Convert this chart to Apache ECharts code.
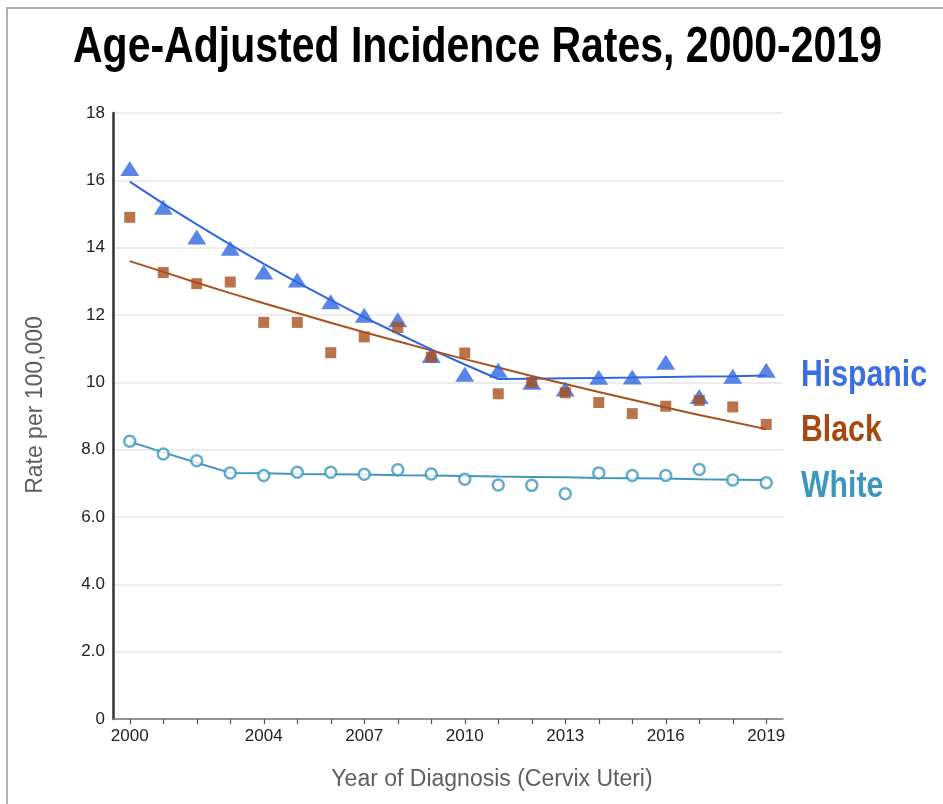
<!DOCTYPE html>
<html>
<head>
<meta charset="utf-8">
<title>Age-Adjusted Incidence Rates, 2000-2019</title>
<script src="https://cdn.jsdelivr.net/npm/echarts@6/dist/echarts.min.js"></script>
<style>
  html, body { margin: 0; padding: 0; background: #fff; }
  #chart { width: 943px; height: 804px; }
</style>
</head>
<body>
<div id="chart"></div>
<script>
// years on the x axis, and the ones that get a label
const years = ['2000', '2001', '2002', '2003', '2004', '2005', '2006', '2007', '2008', '2009',
  '2010', '2011', '2012', '2013', '2014', '2015', '2016', '2017', '2018', '2019']
const labelledYears = ['2000', '2004', '2007', '2010', '2013', '2016', '2019']

// observed rates (per 100,000)
const hispanicRates = [16.35, 15.2, 14.32, 13.98, 13.28, 13.04, 12.39, 11.99, 11.86, 10.8,
  10.24, 10.36, 10.0, 9.8, 10.15, 10.16, 10.6, 9.58, 10.18, 10.36]
const blackRates = [14.9, 13.26, 12.93, 12.98, 11.78, 11.78, 10.88, 11.35, 11.63, 10.75,
  10.87, 9.66, 10.0, 9.69, 9.4, 9.07, 9.29, 9.46, 9.27, 8.75]
const whiteRates = [8.25, 7.87, 7.67, 7.31, 7.23, 7.33, 7.33, 7.27, 7.4, 7.28,
  7.12, 6.95, 6.94, 6.69, 7.31, 7.23, 7.23, 7.41, 7.1, 7.02]

// fitted trend lines
const hispanicTrend = [15.96, 15.31, 14.69, 14.09, 13.52, 12.97, 12.44, 11.93, 11.45, 10.98,
  10.53, 10.1, 10.11, 10.12, 10.13, 10.14, 10.16, 10.17, 10.18, 10.2]
const blackTrend = [13.6, 13.28, 12.96, 12.65, 12.35, 12.06, 11.77, 11.49, 11.22, 10.95,
  10.69, 10.44, 10.19, 9.95, 9.71, 9.48, 9.25, 9.03, 8.82, 8.61]
const whiteTrend = [8.24, 7.92, 7.61, 7.31, 7.3, 7.28, 7.27, 7.26, 7.24, 7.23,
  7.22, 7.2, 7.19, 7.18, 7.16, 7.15, 7.14, 7.12, 7.11, 7.1]

// series names shown at the right of the plot
const seriesNames = ['Hispanic', 'Black', 'White']

const COLORS = {
  hispanic: '#2f66e0',
  black: '#a9501e',
  white: '#3f97bd'
}
const LABEL_COLORS = ['#3a6ee2', '#a8470f', '#3d96bd']
const LABEL_Y = [376, 431, 487]

// narrow bold text (no condensed font installed, so squeeze Liberation Sans)
function narrowText(text, x, y, size, color, sx) {
  return {
    type: 'text',
    x: x,
    y: y,
    scaleX: sx,
    silent: true,
    style: {
      text: text,
      fill: color,
      font: 'bold ' + size + 'px "Liberation Sans", Arial, sans-serif',
      textAlign: 'left',
      textVerticalAlign: 'middle'
    }
  }
}

function trendSeries(name, data, color) {
  return {
    name: name,
    type: 'line',
    data: data,
    showSymbol: false,
    symbol: 'none',
    lineStyle: { color: color, width: 2 },
    silent: true,
    z: 2
  }
}

const option = {
  animation: false,
  backgroundColor: '#fff',
  graphic: [
    // 外框 (left and top edge only)
    {
      type: 'rect',
      shape: { x: 7, y: 8, width: 1000, height: 1000 },
      style: { fill: 'none', stroke: '#999', lineWidth: 1.5 },
      silent: true
    },
    narrowText('Age-Adjusted Incidence Rates, 2000-2019', 73, 48, 50, '#000', 0.82),
    ...seriesNames.map((n, i) => narrowText(n, 801, LABEL_Y[i], 36, LABEL_COLORS[i], 0.84))
  ],
  grid: {
    left: 113,
    right: 160,
    top: 113,
    bottom: 85,
    containLabel: false,
    outerBoundsMode: 'none'
  },
  xAxis: {
    type: 'category',
    data: years,
    boundaryGap: true,
    name: 'Year of Diagnosis (Cervix Uteri)',
    nameLocation: 'middle',
    nameGap: 49,
    nameTextStyle: {
      fontFamily: 'Liberation Sans',
      fontSize: 23,
      color: '#5f5f5f',
      padding: [0, 0, 0, 88]
    },
    axisLine: { lineStyle: { color: '#777', width: 1.5 } },
    axisTick: {
      show: true,
      alignWithLabel: true,
      interval: 0,
      length: 5,
      lineStyle: { color: '#555', width: 1.2 }
    },
    axisLabel: {
      interval: (idx, val) => labelledYears.includes(val),
      margin: 9,
      fontFamily: 'Liberation Sans',
      fontSize: 17,
      color: '#222'
    },
    splitLine: { show: false }
  },
  yAxis: {
    type: 'value',
    min: 0,
    max: 18,
    interval: 2,
    name: 'Rate per 100,000',
    nameLocation: 'middle',
    nameGap: 66,
    nameTextStyle: {
      fontFamily: 'Liberation Sans',
      fontSize: 23,
      color: '#5f5f5f',
      padding: [0, 0, 0, 22]
    },
    axisLine: { show: true, lineStyle: { color: '#333', width: 2.5 } },
    axisTick: { show: false },
    axisLabel: {
      margin: 8,
      fontFamily: 'Liberation Sans',
      fontSize: 17,
      color: '#222',
      formatter: v => (v >= 10 || v === 0 ? String(v) : v.toFixed(1))
    },
    splitLine: { show: true, lineStyle: { color: '#e6e6e6', width: 1.5 } }
  },
  series: [
    trendSeries('Hispanic', hispanicTrend, COLORS.hispanic),
    {
      name: 'Hispanic points',
      type: 'scatter',
      data: hispanicRates,
      symbol: 'triangle',
      symbolSize: [19, 15],
      itemStyle: { color: COLORS.hispanic },
      z: 3
    },
    trendSeries('Black', blackTrend, COLORS.black),
    {
      name: 'Black points',
      type: 'scatter',
      data: blackRates,
      symbol: 'rect',
      symbolSize: 11,
      itemStyle: { color: COLORS.black },
      z: 4
    },
    trendSeries('White', whiteTrend, COLORS.white),
    {
      name: 'White points',
      type: 'scatter',
      data: whiteRates,
      symbol: 'circle',
      symbolSize: 11,
      itemStyle: { color: '#fff', borderColor: COLORS.white, borderWidth: 2.5 },
      z: 4
    }
  ]
}

const chart = echarts.init(document.getElementById('chart'), null, { renderer: 'canvas' })
chart.setOption(option)
</script>
</body>
</html>
